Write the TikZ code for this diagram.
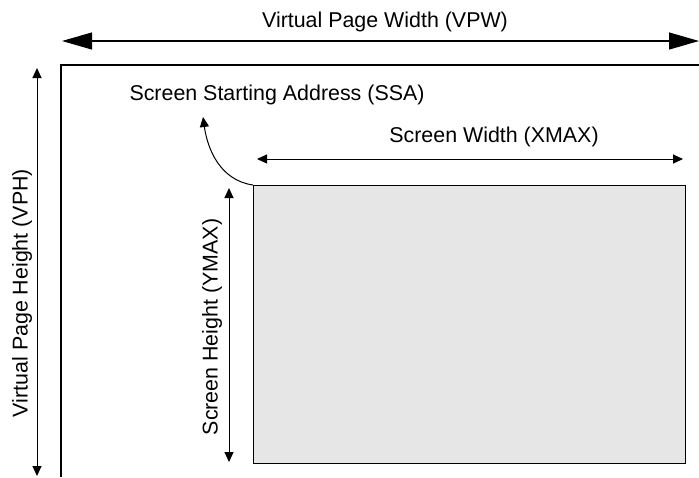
\documentclass[tikz,border=0pt]{standalone}
\usepackage{fontspec}
\setmainfont{Liberation Sans}
\usetikzlibrary{arrows.meta,positioning}
\definecolor{ScreenGray}{HTML}{E6E6E6}

\begin{document}
\begin{tikzpicture}[x=0.5pt,y=-0.5pt,
  lbl/.style={font=\fontsize{10.7}{13}\selectfont,inner sep=0pt},
  bigdim/.style={line width=0.55pt,{Triangle[length=15pt,width=8.5pt]}-{Triangle[length=15pt,width=8.5pt]}},
  dim/.style={line width=0.5pt,{Triangle[length=5pt,width=4.5pt]}-{Triangle[length=5pt,width=4.5pt]}}]
  \useasboundingbox (0,0) rectangle (699,477);
  % virtual page
  \draw[line width=0.55pt] (699,65) -- (61,65) -- (61,477);
  \coordinate (vpwL) at (62,41);
  \coordinate (vpwR) at (699,41);
  \draw[bigdim] (vpwL) -- (vpwR);
  \node[lbl] (vpw) at (385,22) {Virtual Page Width (VPW)};
  \coordinate (vphT) at (37,68);
  \coordinate (vphB) at (37,476);
  \draw[dim] (vphT) -- (vphB);
  \node[lbl,rotate=90] (vph) at (22,293) {Virtual Page Height (VPH)};
  % screen
  \node[draw,line width=0.5pt,fill=ScreenGray,anchor=north west,
        minimum width=216pt,minimum height=139pt,inner sep=0pt] (screen) at (253,185) {};
  \coordinate (ssaTip) at (203,117);
  \draw[line width=0.5pt,-{Triangle[length=5pt,width=4.5pt]}]
       (screen.north west) to[out=172,in=-82] (ssaTip);
  \node[lbl] (ssa) at (277,95) {Screen Starting Address (SSA)};
  \coordinate (xmaxL) at (257,159);
  \coordinate (xmaxR) at (683,159);
  \draw[dim] (xmaxL) -- (xmaxR);
  \node[lbl] (xmax) at (494,137) {Screen Width (XMAX)};
  \coordinate (ymaxT) at (229,188);
  \coordinate (ymaxB) at (229,462);
  \draw[dim] (ymaxT) -- (ymaxB);
  \node[lbl,rotate=90] (ymax) at (212,327) {Screen Height (YMAX)};
\end{tikzpicture}
\end{document}
